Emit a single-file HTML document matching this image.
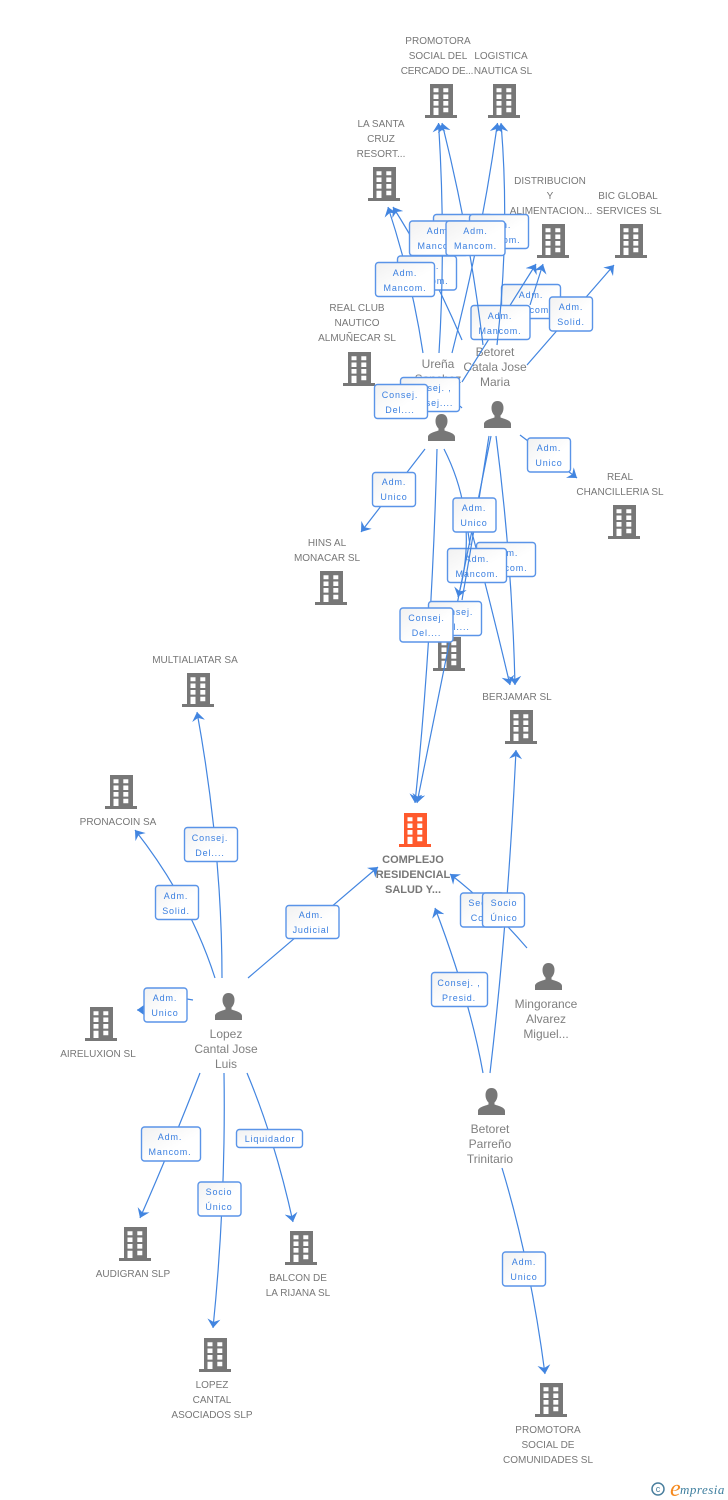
<!DOCTYPE html>
<html><head><meta charset="utf-8"><style>
html,body{margin:0;padding:0;background:#fff}
svg{display:block}
text{font-family:"Liberation Sans",sans-serif}
.n text,.n{font-size:10px;fill:#777;text-anchor:middle}
.p{font-size:12px;fill:#808080;text-anchor:middle}
.l{fill:none;stroke:#4285e0;stroke-width:1.2;marker-end:url(#a)}
.s{fill:none;stroke:#4285e0;stroke-width:1.2}
.b rect{fill:url(#g);stroke:#5a94e8;stroke-width:1.4}
.b text{font-size:9px;letter-spacing:.85px;fill:#3a7fe0;text-anchor:middle}
</style></head><body>
<svg width="728" height="1500" viewBox="0 0 728 1500" xmlns="http://www.w3.org/2000/svg">
<defs>
<linearGradient id="g" x1="0" y1="0" x2="1" y2="1"><stop offset="0" stop-color="#f1f1f1"/><stop offset=".6" stop-color="#fff"/></linearGradient>
<marker id="a" viewBox="0 0 9 13" refX="9" refY="6.5" markerWidth="9" markerHeight="13" markerUnits="userSpaceOnUse" orient="auto"><path d="M0 0L9 6.500L0 13L3 6.500z" fill="#4285e0"/></marker>
<symbol id="h" width="32" height="34" viewBox="0 0 32 34" overflow="visible"><path fill="currentColor" fill-rule="evenodd" d="M5 0H28V31H32V34H0V31H5ZM8.500 4.300V8.300H13.500V4.300ZM18.300 4.300V8.300H23.300V4.300ZM8.500 10.500V15H13.500V10.500ZM18.300 10.500V15H23.300V10.500ZM8.500 17V21.600H13.500V17ZM18.300 17V21.600H23.300V17ZM8.500 23.700V31H13.500V23.700ZM18.300 23.700V28.300H23.300V23.700Z"/></symbol>
<symbol id="u" width="27" height="27" viewBox="0 0 27 27"><path fill="#777" d="M13.500 0C17.500 0 19.500 3 19.500 7C19.500 10.500 18 13 16.500 14.500V16.500C21 18 27 19.500 27 23V27H0V23C0 19.500 6 18 10.500 16.500V14.500C9 13 7.500 10.500 7.500 7C7.500 3 9.500 0 13.500 0Z"/></symbol>
</defs>

<g color="#777">
<use href="#h" x="425" y="84"/><use href="#h" x="488" y="84"/><use href="#h" x="368" y="167"/>
<use href="#h" x="537" y="224"/><use href="#h" x="615" y="224"/><use href="#h" x="343" y="352"/>
<use href="#h" x="608" y="505"/><use href="#h" x="315" y="571"/><use href="#h" x="433" y="637"/>
<use href="#h" x="505" y="710"/><use href="#h" x="182" y="673"/><use href="#h" x="105" y="775"/>
<use href="#h" x="85" y="1007"/><use href="#h" x="119" y="1227"/><use href="#h" x="285" y="1231"/>
<use href="#h" x="199" y="1338"/><use href="#h" x="535" y="1383"/>
</g>
<use href="#h" x="399" y="813" color="#ff5a2d"/>
<use href="#u" x="428" y="414"/><use href="#u" x="484" y="401"/><use href="#u" x="215" y="993"/>
<use href="#u" x="535" y="963"/><use href="#u" x="478" y="1088"/>

<g class="n">
<text x="438" y="44">PROMOTORA</text><text x="438" y="59">SOCIAL DEL</text><text x="437" y="74" letter-spacing="-.2">CERCADO DE...</text>
<text x="501" y="59">LOGISTICA</text><text x="503" y="74">NAUTICA SL</text>
<text x="381" y="127">LA SANTA</text><text x="381" y="142">CRUZ</text><text x="381" y="157">RESORT...</text>
<text x="550" y="184">DISTRIBUCION</text><text x="550" y="199">Y</text><text x="551" y="214">ALIMENTACION...</text>
<text x="628" y="199">BIC GLOBAL</text><text x="629" y="214">SERVICES  SL</text>
<text x="357" y="311">REAL CLUB</text><text x="357" y="326">NAUTICO</text><text x="357" y="341">ALMUÑECAR SL</text>
<text x="620" y="480">REAL</text><text x="620" y="495">CHANCILLERIA SL</text>
<text x="327" y="546">HINS AL</text><text x="327" y="561">MONACAR SL</text>
<text x="449" y="610">ULTRA</text><text x="449" y="625">NAUTICA SL</text>
<text x="517" y="700">BERJAMAR SL</text>
<text x="195" y="663">MULTIALIATAR SA</text>
<text x="118" y="825">PRONACOIN SA</text>
<text x="98" y="1057">AIRELUXION SL</text>
<text x="133" y="1277">AUDIGRAN SLP</text>
<text x="298" y="1281">BALCON DE</text><text x="298" y="1296">LA RIJANA SL</text>
<text x="212" y="1388">LOPEZ</text><text x="212" y="1403">CANTAL</text><text x="212" y="1418">ASOCIADOS SLP</text>
<text x="548" y="1433">PROMOTORA</text><text x="548" y="1448">SOCIAL DE</text><text x="548" y="1463">COMUNIDADES SL</text>
</g>
<g style="font-size:11px;font-weight:bold;fill:#777;text-anchor:middle">
<text x="413" y="863">COMPLEJO</text><text x="413" y="878">RESIDENCIAL</text><text x="413" y="893">SALUD Y...</text>
</g>
<g class="p">
<text x="438" y="368">Ureña</text><text x="438" y="383">Sanchez</text><text x="438" y="398">Jose</text>
<text x="495" y="356">Betoret</text><text x="495" y="371">Catala Jose</text><text x="495" y="386">Maria</text>
<text x="226" y="1038">Lopez</text><text x="226" y="1053">Cantal Jose</text><text x="226" y="1068">Luis</text>
<text x="546" y="1008">Mingorance</text><text x="546" y="1023">Alvarez</text><text x="546" y="1038">Miguel...</text>
<text x="490" y="1133">Betoret</text><text x="490" y="1148">Parreño</text><text x="490" y="1163">Trinitario</text>
</g>

<path class="l" d="M462 340Q430 265 393 207"/>
<path class="l" d="M423 353Q412 280 388 207"/>
<path class="s" d="M460 406L462 408"/>

<g class="b">
<rect x="397.500" y="256" width="59" height="34" rx="3"/><text x="427" y="269">Adm.</text><text x="427" y="284">Mancom.</text>
<rect x="501.500" y="284.500" width="59" height="34" rx="3"/><text x="531" y="298">Adm.</text><text x="531" y="313">Mancom.</text>
</g>
<path class="l" d="M439 353Q446 240 438.500 123"/>
<path class="l" d="M462 382L536 264"/>
<path class="l" d="M530 305L543 264"/>
<g class="b">
<rect x="471" y="305.500" width="59" height="34" rx="3"/><text x="500" y="319">Adm.</text><text x="500" y="334">Mancom.</text>
</g>
<path class="l" d="M483 345Q470 235 442 123"/>
<path class="l" d="M452 353Q482 235 497.500 123"/>
<path class="l" d="M497 345Q510 230 501 123"/>
<path class="l" d="M527 365L614 265"/>
<path class="l" d="M520 435L577 478"/>
<path class="l" d="M425 449L361 532"/>

<path class="l" d="M496 436Q512 560 515 685"/>
<path class="l" d="M466 510Q490 600 510 685"/>
<path class="l" d="M437 449Q432 640 415 803"/>
<g class="b">
<rect x="476.500" y="542.500" width="59" height="34" rx="3"/><text x="506" y="556">Adm.</text><text x="506" y="571">Mancom.</text>
<rect x="447.500" y="548.500" width="59" height="34" rx="3"/><text x="477" y="562">Adm.</text><text x="477" y="577">Mancom.</text>
</g>
<path class="s" d="M489 436Q476 520 462 600"/>
<path class="l" d="M444 449Q480 520 458 597"/>
<path class="l" d="M491 436Q470 540 417 803"/>
<path class="s" d="M468 532L470 545"/>

<path class="l" d="M527 948Q490 905 450 874"/>
<path class="l" d="M483 1073Q470 1000 435 908"/>
<path class="l" d="M490 1073Q508 920 516 750"/>
<path class="l" d="M502 1168Q530 1260 545 1374"/>
<path class="l" d="M222 978Q222 850 197 712"/>
<path class="l" d="M215 978Q190 900 135 830"/>
<path class="l" d="M248 978L378 867"/>
<path class="s" d="M193 1000L187 999"/>
<path class="l" d="M150 1010L137 1010"/>
<path class="l" d="M200 1073Q170 1150 140 1218"/>
<path class="l" d="M224 1073Q226 1200 213 1328"/>
<path class="l" d="M247 1073Q275 1140 293 1222"/>

<g class="b">
<rect x="433.500" y="214.500" width="59" height="34" rx="3"/><text x="463" y="228">Adm.</text><text x="463" y="243">Mancom.</text>
<rect x="469.500" y="214.500" width="59" height="34" rx="3"/><text x="499" y="228">Adm.</text><text x="499" y="243">Mancom.</text>
<rect x="409.500" y="221" width="59" height="34.500" rx="3"/><text x="439" y="234">Adm.</text><text x="439" y="249">Mancom.</text>
<rect x="446" y="221" width="59" height="34.500" rx="3"/><text x="475.500" y="234">Adm.</text><text x="475.500" y="249">Mancom.</text>
<rect x="375.500" y="262.500" width="59" height="34" rx="3"/><text x="405" y="276">Adm.</text><text x="405" y="291">Mancom.</text>
<rect x="549.500" y="297" width="43" height="34" rx="3"/><text x="571" y="310">Adm.</text><text x="571" y="325">Solid.</text>
<rect x="400.500" y="377.500" width="59" height="34" rx="3"/><text x="430" y="391">Consej. ,</text><text x="430" y="406">Consej....</text>
<rect x="374.500" y="384.500" width="53" height="34" rx="3"/><text x="400" y="398">Consej.</text><text x="400" y="413">Del....</text>
<rect x="372.500" y="472.500" width="43" height="34" rx="3"/><text x="394" y="485">Adm.</text><text x="394" y="500">Unico</text>
<rect x="527.500" y="438" width="43" height="34" rx="3"/><text x="549" y="451">Adm.</text><text x="549" y="466">Unico</text>
<rect x="453" y="498" width="43" height="34" rx="3"/><text x="474" y="511">Adm.</text><text x="474" y="526">Unico</text>
<rect x="428.500" y="601.500" width="53" height="34" rx="3"/><text x="455" y="615">Consej.</text><text x="455" y="630">Del....</text>
<rect x="400" y="608" width="53" height="34" rx="3"/><text x="426.500" y="621">Consej.</text><text x="426.500" y="636">Del....</text>
<rect x="460.500" y="893" width="44" height="34" rx="3"/><text x="489" y="906">Secret. ,</text><text x="489" y="921">Consej.</text>
<rect x="482.500" y="893" width="42" height="34" rx="3"/><text x="504" y="906">Socio</text><text x="504" y="921">Único</text>
<rect x="286" y="905.500" width="53" height="33" rx="3"/><text x="311" y="918">Adm.</text><text x="311" y="933">Judicial</text>
<rect x="431.500" y="972.500" width="56" height="34" rx="3"/><text x="459" y="986">Consej. ,</text><text x="459" y="1001">Presid.</text>
<rect x="155.500" y="885.500" width="43" height="34" rx="3"/><text x="176" y="899">Adm.</text><text x="176" y="914">Solid.</text>
<rect x="184.500" y="827.500" width="53" height="34" rx="3"/><text x="210" y="841">Consej.</text><text x="210" y="856">Del....</text>
<rect x="144" y="988" width="43" height="34" rx="3"/><text x="165" y="1001">Adm.</text><text x="165" y="1016">Unico</text>
<rect x="141.500" y="1127" width="59" height="34" rx="3"/><text x="170" y="1140">Adm.</text><text x="170" y="1155">Mancom.</text>
<rect x="198" y="1182" width="43" height="34" rx="3"/><text x="219" y="1195">Socio</text><text x="219" y="1210">Único</text>
<rect x="236.500" y="1129.500" width="66" height="18" rx="3"/><text x="270" y="1142">Liquidador</text>
<rect x="502.500" y="1252" width="43" height="34" rx="3"/><text x="524" y="1265">Adm.</text><text x="524" y="1280">Unico</text>
</g>

<circle cx="658" cy="1489" r="6" fill="none" stroke="#4a7f9e" stroke-width="1.500"/>
<text x="658" y="1492" style="font-size:9px;fill:#4a7f9e;text-anchor:middle">c</text>
<text x="670" y="1496" style="font-size:24px;font-style:italic;fill:#f58a1f;font-family:'Liberation Serif',serif">e</text>
<text x="680" y="1494" style="font-size:13px;font-style:italic;fill:#3f7f9f;font-family:'Liberation Serif',serif;letter-spacing:.5px">mpresia</text>
</svg>
</body></html>
